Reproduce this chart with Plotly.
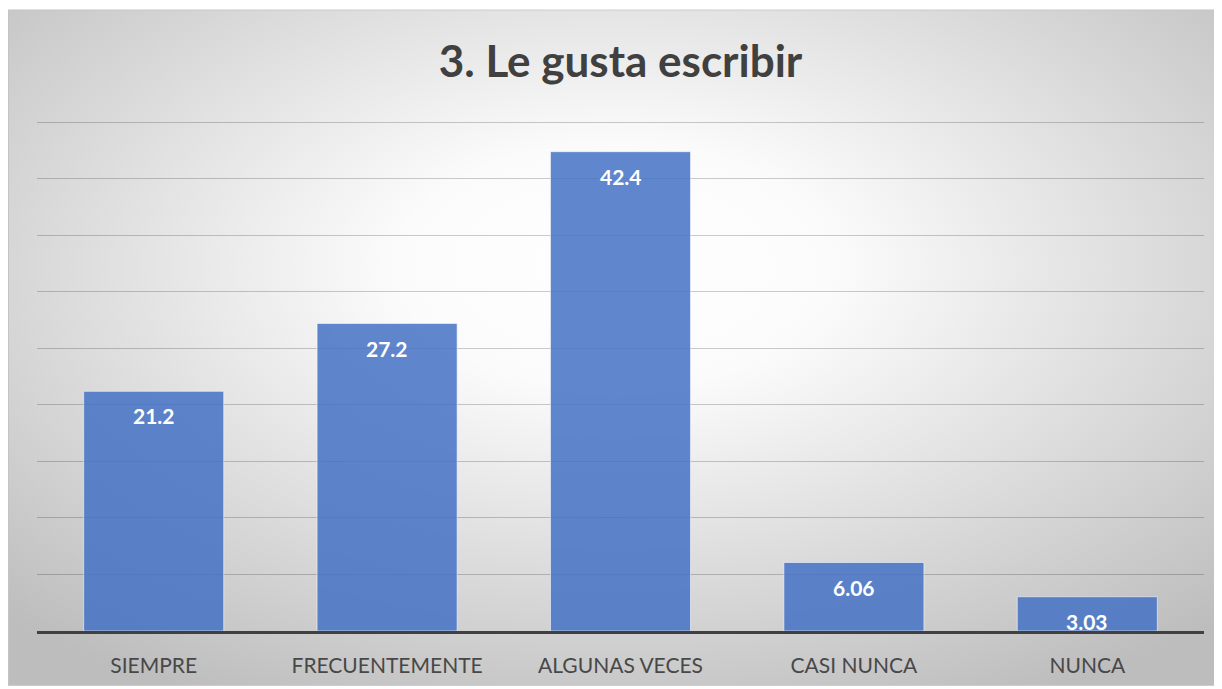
import base64
import plotly.graph_objects as go

# data
categories = ['SIEMPRE', 'FRECUENTEMENTE', 'ALGUNAS VECES', 'CASI NUNCA', 'NUNCA']
values = [21.2, 27.2, 42.4, 6.06, 3.03]
value_labels = ['21.2', '27.2', '42.4', '6.06', '3.03']
title_text = '3. Le gusta escribir'

# the page body keeps its default 8px margin, so the figure is 8px smaller
W, H = 1214, 681
ml, mr, mt, mb = 29, 18, 103, 56
pw, ph = W - ml - mr, H - mt - mb
y_top = 46  # a bit above the last gridline (45) so that it gets drawn

# radial grey-white background like the Excel chart area
bw, bh = 1214, 679
svg = (
    '<svg xmlns="http://www.w3.org/2000/svg" width="%d" height="%d" viewBox="0 0 %d %d" preserveAspectRatio="none">'
    '<defs><radialGradient id="g" cx="0.5" cy="0.38" r="0.72">'
    '<stop offset="0" stop-color="#ffffff"/>'
    '<stop offset="0.25" stop-color="#fbfbfb"/>'
    '<stop offset="1" stop-color="#bdbdbd"/>'
    '</radialGradient></defs>'
    '<rect x="0" y="0" width="%d" height="%d" fill="url(#g)"/>'
    '<rect x="0.5" y="0.5" width="%d" height="%d" fill="none" stroke="#c4c4c4" stroke-width="1"/>'
    '</svg>'
) % (bw, bh, bw, bh, bw, bh, bw - 1, bh - 1)
bg_src = 'data:image/svg+xml;base64,' + base64.b64encode(svg.encode()).decode()

fig = go.Figure()
fig.add_trace(go.Bar(
    x=categories, y=values,
    marker=dict(color='rgba(68,114,196,0.85)', line=dict(color='rgba(255,255,255,0.55)', width=1)),
    hoverinfo='x+y',
))

# data labels inside bars, near the top
for c, v, t in zip(categories, values, value_labels):
    fig.add_annotation(x=c, y=v, text='<b>%s</b>' % t, showarrow=False,
                       yanchor='top', yshift=-10,
                       font=dict(family='Lato, Open Sans, sans-serif', size=21, color='white'))

fig.add_layout_image(dict(
    source=bg_src, xref='paper', yref='paper',
    x=(0 - ml) / pw, y=1 + (mt - 1) / ph,
    sizex=bw / pw, sizey=bh / ph,
    xanchor='left', yanchor='top', sizing='stretch', layer='below',
))

fig.update_layout(
    width=W, height=H,
    margin=dict(l=ml, r=mr, t=mt, b=mb),
    paper_bgcolor='white', plot_bgcolor='rgba(0,0,0,0)',
    bargap=0.4, showlegend=False,
    title=dict(text='<b>%s</b>' % title_text, x=0.5, xref='paper', xanchor='center',
               y=1 - 54 / H, yanchor='middle',
               font=dict(family='Lato, Open Sans, sans-serif', size=44, color='#404040')),
    font=dict(family='Lato, Open Sans, sans-serif', color='#404040'),
)
fig.update_yaxes(range=[0, y_top], dtick=5, showticklabels=False, showgrid=True,
                 gridcolor='rgba(0,0,0,0.2)', gridwidth=1, zeroline=False, fixedrange=True)
fig.update_xaxes(showline=True, linecolor='#404040', linewidth=3, ticks='',
                 tickfont=dict(size=21, color='#484848'), ticklabelstandoff=14, fixedrange=True)

fig.write_html('out.html')
